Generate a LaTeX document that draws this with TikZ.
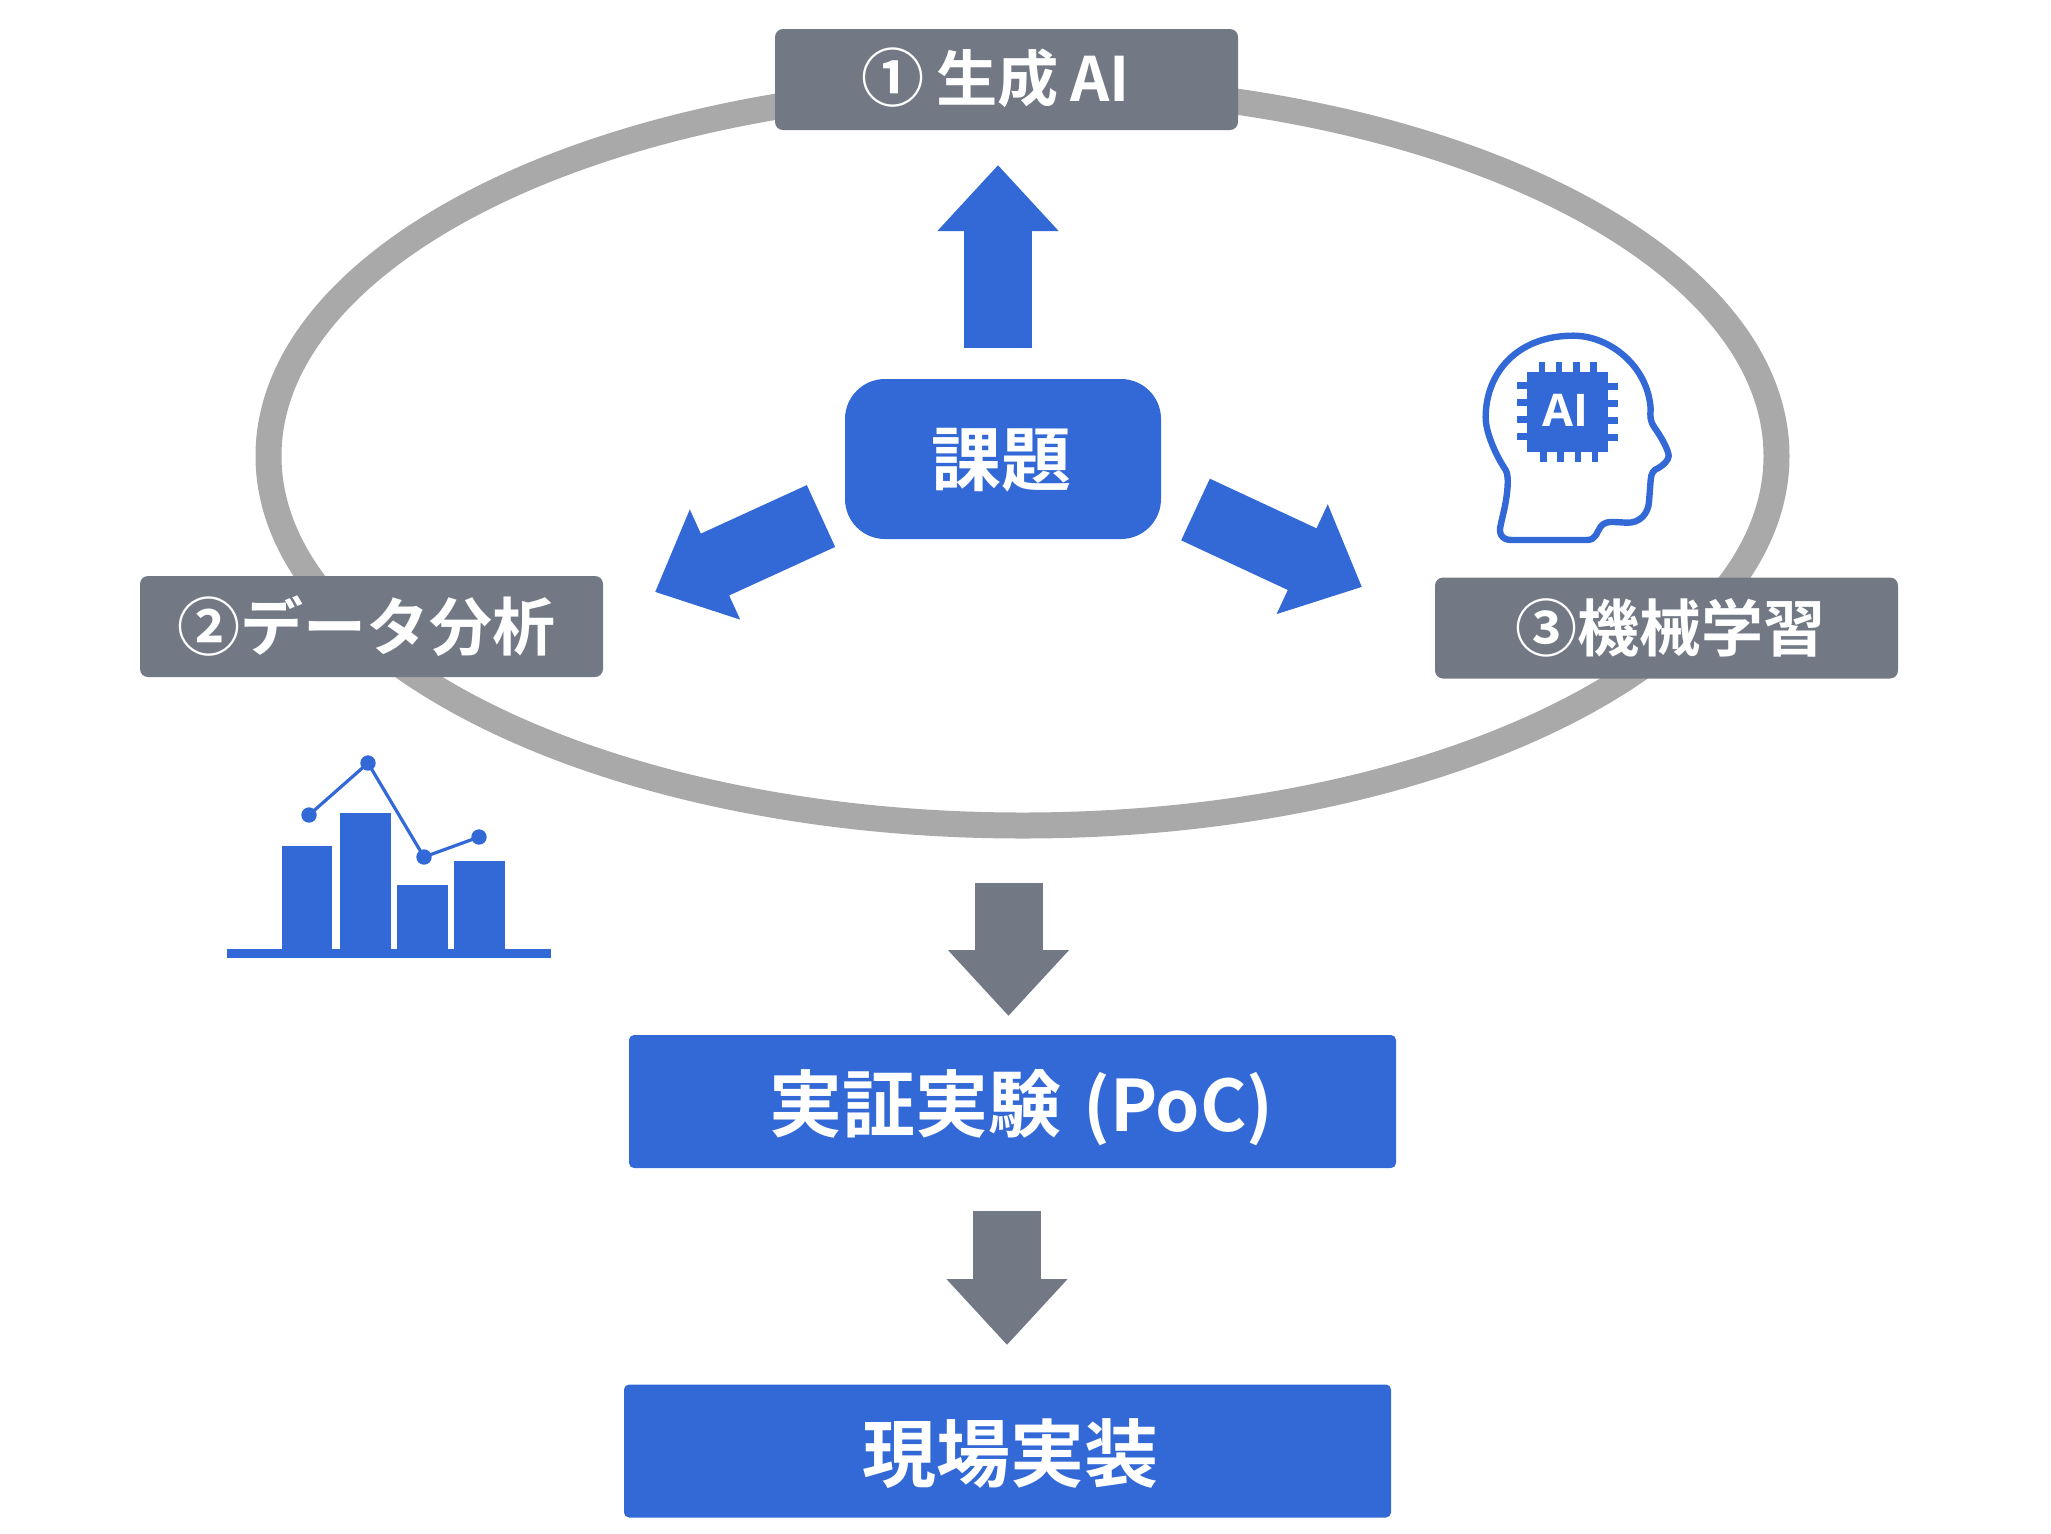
\documentclass[tikz,border=0pt]{standalone}
\usepackage{fontspec}
\setmainfont{Noto Sans CJK JP}[BoldFont=* Bold]
\newfontfamily\latinbold{Open Sans}[BoldFont=* Bold]
\usetikzlibrary{arrows.meta}
\definecolor{gblue}{HTML}{3369D6}
\definecolor{ggray}{HTML}{727985}
\definecolor{gring}{HTML}{A9A9A9}
% #1 font size, #2 horizontal offset, #3 downward offset, #4 text
\newcommand{\midtext}[4]{\fontsize{#1}{#1}\selectfont\hspace*{#2}\raisebox{\dimexpr-0.38em-#3\relax}[0pt][0pt]{#4}}
\tikzset{
  bx/.style={inner sep=0pt,text=white,font=\bfseries,align=center},
  graybox/.style={bx,fill=ggray,rounded corners=4pt,minimum width=231.5pt,minimum height=50.5pt},
  bluebox/.style={bx,fill=gblue,rounded corners=2.5pt,minimum width=383.5pt,minimum height=66.5pt},
  blockblue/.style={draw=gblue,line width=34pt,-{Triangle[width=58.5pt,length=33pt,fill=gblue]}},
  blockgray/.style={draw=ggray,line width=34pt,-{Triangle[width=58.5pt,length=33pt,fill=ggray]}},
  iconfill/.style={fill=gblue,draw=none},
  iconline/.style={draw=gblue,line width=3.2pt,line join=round},
}
\begin{document}
\begin{tikzpicture}[x=0.5pt,y=-0.5pt]
\useasboundingbox (0,0) rectangle (2051,1533);
% ring
\draw[gring,line width=13pt] (1022.5,456) ellipse [x radius=754,y radius=369.5];
% nodes
\node[graybox] (n1) at (1006.5,79.5) {\midtext{30.6}{-11pt}{-0.6pt}{\scalebox{1.03}{①}\hspace{6pt}生成\hspace{6pt}AI}};
\node[graybox] (n2) at (371.5,626.5) {\midtext{31.5}{-4.6pt}{0pt}{②データ分析}};
\node[graybox] (n3) at (1666.5,628) {\midtext{31}{3.9pt}{0pt}{③機械学習}};
\node[bx,fill=gblue,rounded corners=20pt,minimum width=158pt,minimum height=80pt] (task) at (1003,459) {\midtext{35}{-2pt}{0pt}{課題}};
\node[bluebox] (poc) at (1012.5,1101.5) {\midtext{36.5}{9pt}{1.3pt}{実証実験\hspace{11pt}{\fontsize{35.5}{36}\selectfont (PoC)}}};
\node[bluebox] (impl) at (1007.5,1451) {\midtext{37}{3pt}{1.3pt}{現場実装}};
% block arrows
\coordinate (a1s) at (998,348); \coordinate (a1e) at (998,165);
\coordinate (a2s) at (821,516); \coordinate (a2e) at (655,592);
\coordinate (a3s) at (1195.5,509.5); \coordinate (a3e) at (1362,587);
\coordinate (a4s) at (1008.5,883); \coordinate (a4e) at (1008.5,1016);
\coordinate (a5s) at (1007,1211); \coordinate (a5e) at (1007,1345);
\draw[blockblue] (a1s) -- (a1e);
\draw[blockblue] (a2s) -- (a2e);
\draw[blockblue] (a3s) -- (a3e);
\draw[blockgray] (a4s) -- (a4e);
\draw[blockgray] (a5s) -- (a5e);
% chart icon
\fill[iconfill] (227,949) rectangle (551,958);
\fill[iconfill] (282,846) rectangle (332,950);
\fill[iconfill] (340,813) rectangle (391,950);
\fill[iconfill] (397,885) rectangle (448,950);
\fill[iconfill] (454,861) rectangle (505,950);
\draw[draw=gblue,line width=1.6pt] (309,815) -- (368,763) -- (424,857) -- (479,837);
\foreach \p in {(309,815),(368,763),(424,857),(479,837)} \fill[gblue] \p circle (7.7);
% head icon
\begin{scope}[shift={(1440,310)},x=0.16667pt,y=-0.16667pt]
\draw[iconline] (215,690) -- (440,690) .. controls (470,690) and (470,665) .. (482,650) .. controls (492,637) and (505,635) .. (525,636) -- (560,638) .. controls (600,640) and (625,610) .. (627,575) -- (632,510) .. controls (633,490) and (640,480) .. (655,474) .. controls (670,466) and (686,450) .. (686,438) .. controls (686,420) and (660,375) .. (643,352) .. controls (630,335) and (630,315) .. (632,298) .. controls (625,170) and (510,77) .. (400,77) .. controls (230,77) and (137,190) .. (137,322) .. controls (137,370) and (170,440) .. (197,480) .. controls (210,500) and (200,570) .. (190,610) -- (182,645) .. controls (175,670) and (185,690) .. (215,690) -- cycle;
\fill[iconfill] (262,185) rectangle (505,427);
\foreach \a in {297,348,400,451} \fill[iconfill] (\a,155) rectangle ++(19,32);
\foreach \a in {301,352,404,455} \fill[iconfill] (\a,425) rectangle ++(19,32);
\foreach \a in {216,267,319,370} \fill[iconfill] (232,\a) rectangle ++(32,21);
\foreach \a in {219,270,322,373} \fill[iconfill] (503,\a) rectangle ++(32,21);
\node[inner sep=0pt,text=white,font=\latinbold\bfseries\fontsize{22.5}{23}\selectfont] (chip) at (377,301) {AI};
\end{scope}
\end{tikzpicture}
\end{document}
